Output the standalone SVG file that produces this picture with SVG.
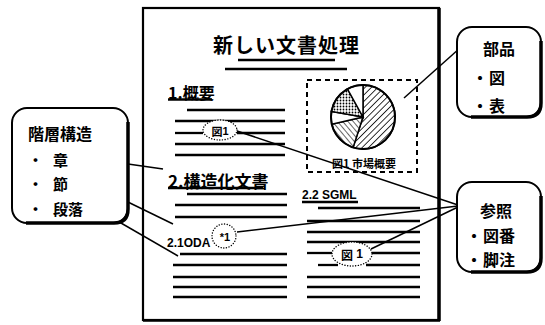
<svg xmlns="http://www.w3.org/2000/svg" width="545" height="325" viewBox="0 0 545 325">
<style>
.t{font-family:"Noto Sans CJK JP","Liberation Sans",sans-serif;font-weight:bold;fill:#000}
.l{font-family:"Liberation Sans","Noto Sans CJK JP",sans-serif;font-weight:bold;fill:#000}
.ln{stroke:#000;stroke-width:2.3;fill:none}
.thin{stroke:#000;stroke-width:1.5;fill:none}
.dot{stroke:#000;stroke-width:1.4;fill:#fff;stroke-dasharray:0.1 2.6;stroke-linecap:round}
.box{fill:#fff;stroke:#000;stroke-width:2}
.shadow{fill:none;stroke:#000;stroke-width:3.5}
</style>
<defs>
<pattern id="hatchA" patternUnits="userSpaceOnUse" width="4.5" height="4.5" patternTransform="rotate(45)">
<rect width="4.5" height="4.5" fill="#fff"/><line x1="0" y1="0" x2="0" y2="4.5" stroke="#000" stroke-width="1.6"/>
</pattern>
<pattern id="hatchB" patternUnits="userSpaceOnUse" width="4" height="4" patternTransform="rotate(-40)">
<rect width="4" height="4" fill="#fff"/><line x1="0" y1="0" x2="0" y2="4" stroke="#000" stroke-width="1.2"/>
</pattern>
<pattern id="dots" patternUnits="userSpaceOnUse" width="3" height="3">
<rect width="3" height="3" fill="#fff"/><circle cx="1.5" cy="1.5" r="0.9" fill="#000"/>
</pattern>
</defs>
<rect width="545" height="325" fill="#fff"/>

<g id="page">
<rect x="143" y="8" width="296" height="312" fill="#fff" stroke="#000" stroke-width="2.2"/>
<line x1="439" y1="8" x2="439" y2="321" stroke="#000" stroke-width="3.5"/>
<line x1="143" y1="320.5" x2="440" y2="320.5" stroke="#000" stroke-width="2.5"/>
<text class="t" x="286.5" y="44" font-size="20" text-anchor="middle" dominant-baseline="central" font-weight="normal" letter-spacing="1">新しい文書処理</text>
<line class="ln" x1="238" y1="60" x2="335" y2="60"/>
<line class="ln" x1="225" y1="69" x2="347" y2="69"/>

<text class="t" x="168" y="92" font-size="16" dominant-baseline="central">1.概要</text>
<line class="ln" x1="168" y1="99.5" x2="212" y2="99.5" stroke-width="1.6"/>
<g class="ln">
<line x1="187" y1="110" x2="285" y2="110"/>
<line x1="175" y1="121" x2="285" y2="121"/>
<line x1="175" y1="133" x2="203" y2="133"/>
<line x1="237" y1="133" x2="285" y2="133"/>
<line x1="175" y1="144" x2="285" y2="144"/>
<line x1="175" y1="155" x2="285" y2="155"/>
</g>

<text class="t" x="168" y="180" font-size="17" dominant-baseline="central">2.構造化文書</text>
<line class="ln" x1="168" y1="188" x2="263" y2="188" stroke-width="1.6"/>
<g class="ln">
<line x1="187" y1="194" x2="287" y2="194"/>
<line x1="175" y1="205" x2="287" y2="205"/>
<line x1="175" y1="217" x2="287" y2="217"/>
<line x1="180" y1="254" x2="287" y2="254"/>
<line x1="173" y1="265" x2="287" y2="265"/>
<line x1="173" y1="277" x2="287" y2="277"/>
<line x1="173" y1="287" x2="287" y2="287"/>
<line x1="173" y1="297" x2="287" y2="297"/>
</g>
<text class="l" x="167" y="243" font-size="12" dominant-baseline="central">2.1ODA</text>

<text class="l" x="302" y="195" font-size="12" dominant-baseline="central">2.2 SGML</text>
<line class="ln" x1="302" y1="202" x2="358" y2="202" stroke-width="1.6"/>
<g class="ln">
<line x1="318" y1="208" x2="420" y2="208"/>
<line x1="307" y1="221" x2="420" y2="221"/>
<line x1="307" y1="232" x2="420" y2="232"/>
<line x1="307" y1="242" x2="420" y2="242"/>
<line x1="307" y1="253" x2="332" y2="253"/>
<line x1="372" y1="253" x2="420" y2="253"/>
<line x1="318" y1="265" x2="338" y2="265"/>
<line x1="366" y1="265" x2="420" y2="265"/>
<line x1="307" y1="277" x2="420" y2="277"/>
<line x1="307" y1="287" x2="420" y2="287"/>
<line x1="307" y1="297" x2="420" y2="297"/>
</g>

<g id="figure">
<rect x="307" y="80" width="110" height="92" fill="none" stroke="#000" stroke-width="2" stroke-dasharray="5 4"/>
<path d="M363,117 L363,85 A32,32 0 1,1 353.1,147.4 Z" fill="url(#hatchA)" stroke="#000" stroke-width="1.5"/>
<path d="M363,117 L353.1,147.4 A32,32 0 0,1 331.8,124.2 Z" fill="url(#hatchB)" stroke="#000" stroke-width="1.5"/>
<path d="M363,117 L331.8,124.2 A32,32 0 0,1 331.5,111.4 Z" fill="#fff" stroke="#000" stroke-width="1.5"/>
<path d="M363,117 L331.5,111.4 A32,32 0 0,1 347.5,89 Z" fill="url(#dots)" stroke="#000" stroke-width="1.5"/>
<path d="M363,117 L347.5,89 A32,32 0 0,1 363,85 Z" fill="#fff" stroke="#000" stroke-width="1.5"/>
<circle cx="363" cy="117" r="32" fill="none" stroke="#000" stroke-width="2"/>
<text class="t" x="364" y="163" font-size="11" text-anchor="middle" dominant-baseline="central">図1 市場概要</text>
</g>
</g>

<g id="connectors" class="thin">
<line x1="460" y1="48" x2="404" y2="98"/>
<line x1="93" y1="159" x2="163" y2="169"/>
<line x1="93" y1="185" x2="173" y2="224"/>
<line x1="95" y1="208" x2="178" y2="256"/>
<line x1="458" y1="205" x2="237" y2="131"/>
<line x1="458" y1="206" x2="237" y2="232"/>
<line x1="458" y1="207" x2="371" y2="249"/>
</g>

<g id="ref-fig1-left">
<ellipse class="dot" cx="220" cy="130" rx="17" ry="10"/>
<text class="l" x="220" y="131" font-size="11" text-anchor="middle" dominant-baseline="central"><tspan font-family="Noto Sans CJK JP">図</tspan>1</text>
</g>
<g id="ref-note1">
<circle class="dot" cx="224" cy="236" r="12"/>
<text class="l" x="225" y="237" font-size="11" text-anchor="middle" dominant-baseline="central">*1</text>
</g>
<g id="ref-fig1-right">
<ellipse class="dot" cx="352" cy="254" rx="20" ry="12"/>
<text class="l" x="352" y="254" font-size="12" text-anchor="middle" dominant-baseline="central"><tspan font-family="Noto Sans CJK JP">図</tspan> 1</text>
</g>

<g id="hierarchy">
<rect class="box" x="12" y="108" width="116" height="115" rx="15"/>
<path class="shadow" d="M128,122 V209 Q128,223 114,223 H26"/>
<text class="t" x="60" y="133" font-size="16" text-anchor="middle" dominant-baseline="central">階層構造</text>
<text class="t" font-size="15" dominant-baseline="central"><tspan x="28" y="159">・</tspan><tspan x="53" y="159">章</tspan></text>
<text class="t" font-size="15" dominant-baseline="central"><tspan x="28" y="183">・</tspan><tspan x="53" y="183">節</tspan></text>
<text class="t" font-size="15" dominant-baseline="central"><tspan x="28" y="208">・</tspan><tspan x="53" y="208">段落</tspan></text>
</g>

<g id="parts">
<rect class="box" x="457" y="27" width="84" height="90" rx="15"/>
<path class="shadow" d="M541,41 V103 Q541,117 527,117 H471"/>
<text class="t" x="499" y="48" font-size="16" text-anchor="middle" dominant-baseline="central">部品</text>
<text class="t" font-size="16" dominant-baseline="central"><tspan x="472" y="77">・</tspan><tspan x="489" y="77">図</tspan></text>
<text class="t" font-size="16" dominant-baseline="central"><tspan x="472" y="105">・</tspan><tspan x="489" y="105">表</tspan></text>
</g>

<g id="reference">
<rect class="box" x="457" y="182" width="84" height="90" rx="15"/>
<path class="shadow" d="M541,196 V258 Q541,272 527,272 H471"/>
<text class="t" x="496" y="210" font-size="16" text-anchor="middle" dominant-baseline="central">参照</text>
<text class="t" font-size="16" dominant-baseline="central"><tspan x="466" y="235">・</tspan><tspan x="483" y="235">図番</tspan></text>
<text class="t" font-size="16" dominant-baseline="central"><tspan x="466" y="259">・</tspan><tspan x="483" y="259">脚注</tspan></text>
</g>
</svg>
